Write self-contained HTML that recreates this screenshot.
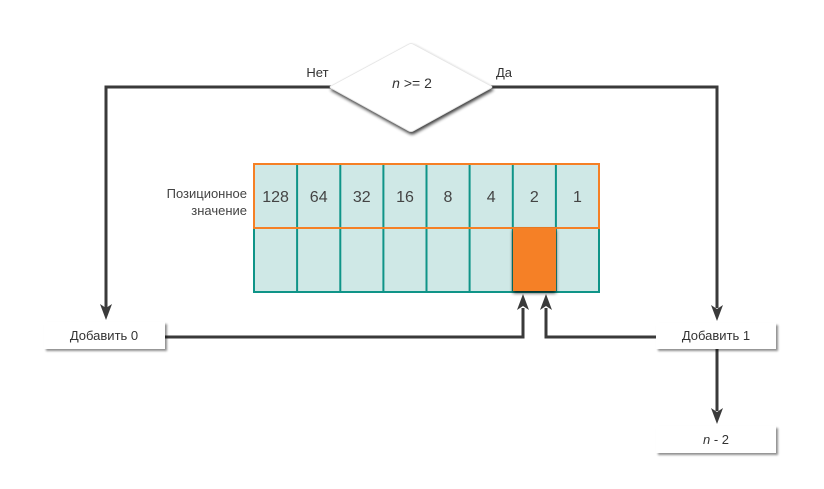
<!DOCTYPE html>
<html>
<head>
<meta charset="utf-8">
<style>
html,body{margin:0;padding:0;background:#fff;}
svg{display:block;}
text{font-family:"Liberation Sans","DejaVu Sans",sans-serif;}
</style>
</head>
<body>
<svg width="824" height="489" viewBox="0 0 824 489" xmlns="http://www.w3.org/2000/svg">
<defs>
  <filter id="ds" x="-20%" y="-30%" width="150%" height="170%">
    <feGaussianBlur in="SourceAlpha" stdDeviation="1.6"/>
    <feOffset dx="1" dy="2.5" result="b"/>
    <feComponentTransfer><feFuncA type="linear" slope="0.75"/></feComponentTransfer>
    <feMerge><feMergeNode/><feMergeNode in="SourceGraphic"/></feMerge>
  </filter>
  <filter id="bs" x="-10%" y="-20%" width="130%" height="160%">
    <feGaussianBlur in="SourceAlpha" stdDeviation="1"/>
    <feOffset dx="2" dy="2" result="b"/>
    <feComponentTransfer><feFuncA type="linear" slope="0.45"/></feComponentTransfer>
    <feMerge><feMergeNode/><feMergeNode in="SourceGraphic"/></feMerge>
  </filter>
  <filter id="os" x="-30%" y="-20%" width="160%" height="150%">
    <feGaussianBlur in="SourceAlpha" stdDeviation="1.8"/>
    <feOffset dx="0" dy="2" result="b"/>
    <feComponentTransfer><feFuncA type="linear" slope="0.8"/></feComponentTransfer>
    <feMerge><feMergeNode/><feMergeNode in="SourceGraphic"/></feMerge>
  </filter>
</defs>

<!-- connectors -->
<g fill="none" stroke="#3a3a3a" stroke-width="3">
  <path d="M331,87 H106 V308"/>
  <path d="M491,87 H717 V308"/>
  <path d="M165,337 H523 V308"/>
  <path d="M656,337 H546 V308"/>
  <path d="M717,349 V411"/>
</g>
<g fill="#3a3a3a">
  <path d="M106,320 L100,304 L106,308 L112,304 Z"/>
  <path d="M717,321 L711,305 L717,309 L723,305 Z"/>
  <path d="M717,424 L711,408 L717,412 L723,408 Z"/>
  <path d="M523,294 L517,310 L523,306 L529,310 Z"/>
  <path d="M546,294 L540,310 L546,306 L552,310 Z"/>
</g>

<!-- diamond -->
<path d="M409,44 Q411,43 413,44 L491,86 Q493,87 491,88 L413,131 Q411,132 409,131 L331,88 Q329,87 331,86 Z" fill="#fff" stroke="#e6e6e6" stroke-width="0.8" filter="url(#ds)"/>
<text x="412" y="88" font-size="14" fill="#333" text-anchor="middle"><tspan font-style="italic">n</tspan> &gt;= 2</text>
<text x="317.5" y="77" font-size="13" fill="#333" text-anchor="middle">Нет</text>
<text x="504" y="77" font-size="13" fill="#333" text-anchor="middle">Да</text>

<!-- grid -->
<rect x="254" y="164" width="345" height="128" fill="#cfe8e6"/>
<g stroke="#0f9488" stroke-width="2">
  <line x1="297.1" y1="164" x2="297.1" y2="292"/>
  <line x1="340.3" y1="164" x2="340.3" y2="292"/>
  <line x1="383.4" y1="164" x2="383.4" y2="292"/>
  <line x1="426.5" y1="164" x2="426.5" y2="292"/>
  <line x1="469.6" y1="164" x2="469.6" y2="292"/>
  <line x1="512.8" y1="164" x2="512.8" y2="292"/>
  <line x1="555.9" y1="164" x2="555.9" y2="292"/>
  <path d="M254,228 V292 H599 V228" fill="none"/>
</g>
<rect x="254" y="164" width="345" height="64" fill="none" stroke="#f58025" stroke-width="2"/>
<rect x="513" y="228" width="43" height="63" fill="#f58025" filter="url(#os)"/>

<g font-size="16" fill="#444" text-anchor="middle">
  <text x="275.6" y="202">128</text>
  <text x="318.7" y="202">64</text>
  <text x="361.8" y="202">32</text>
  <text x="405" y="202">16</text>
  <text x="448" y="202">8</text>
  <text x="491.2" y="202">4</text>
  <text x="534.3" y="202">2</text>
  <text x="577.5" y="202">1</text>
</g>
<g font-size="13" fill="#444" text-anchor="end">
  <text x="247" y="198">Позиционное</text>
  <text x="247" y="215">значение</text>
</g>

<!-- boxes -->
<rect x="44" y="322" width="121" height="27" fill="#fff" filter="url(#bs)"/>
<text x="104" y="340" font-size="13" fill="#333" text-anchor="middle">Добавить 0</text>
<rect x="656" y="323" width="120" height="26" fill="#fff" filter="url(#bs)"/>
<text x="716" y="340" font-size="13" fill="#333" text-anchor="middle">Добавить 1</text>
<rect x="656" y="426" width="120" height="27" fill="#fff" filter="url(#bs)"/>
<text x="716" y="444" font-size="13" fill="#333" text-anchor="middle"><tspan font-style="italic">n</tspan> - 2</text>
</svg>
</body>
</html>
